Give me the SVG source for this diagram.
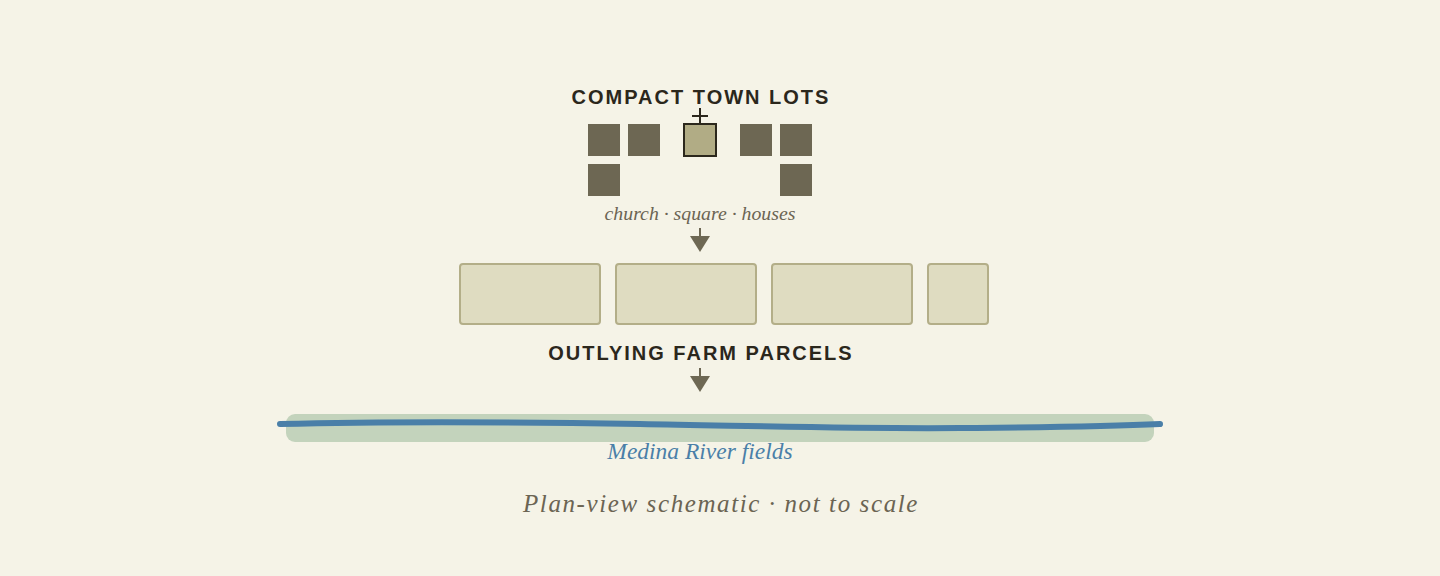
<svg xmlns="http://www.w3.org/2000/svg" width="1440" height="576" viewBox="0 0 1440 576">
<style>
.title{font-family:"Liberation Sans",Arial,sans-serif;font-weight:bold;font-size:20px;letter-spacing:2px;fill:#2b271c;text-anchor:middle}
.cap{font-family:"Liberation Serif","Times New Roman",serif;font-style:italic;font-size:19.8px;fill:#6b6453;text-anchor:middle}
.house{fill:#6d6753}
.parcel{fill:#dfdcc1;stroke:#b3ae88;stroke-width:2}
.conn{stroke:#6d6753;stroke-width:2;fill:none}
.head{fill:#6d6753}
</style>
<rect width="1440" height="576" fill="#f5f3e7"/>
<g id="town">
<text class="title" x="701" y="104">COMPACT TOWN LOTS</text>
<rect class="house" x="588" y="124" width="32" height="32"/>
<rect class="house" x="628" y="124" width="32" height="32"/>
<rect class="house" x="740" y="124" width="32" height="32"/>
<rect class="house" x="780" y="124" width="32" height="32"/>
<rect class="house" x="588" y="164" width="32" height="32"/>
<rect class="house" x="780" y="164" width="32" height="32"/>
<rect x="684" y="124" width="32" height="32" fill="#b1ac85" stroke="#2b271c" stroke-width="2"/>
<path d="M700 108V124M692 116H708" stroke="#2b271c" stroke-width="2"/>
<text class="cap" x="700" y="220">church · square · houses</text>
</g>
<g id="farms">
<rect class="parcel" x="460" y="264" width="140" height="60" rx="3"/>
<rect class="parcel" x="616" y="264" width="140" height="60" rx="3"/>
<rect class="parcel" x="772" y="264" width="140" height="60" rx="3"/>
<rect class="parcel" x="928" y="264" width="60" height="60" rx="3"/>
<text class="title" x="701" y="360">OUTLYING FARM PARCELS</text>
</g>
<g id="river">
<rect x="286" y="414" width="868" height="28" rx="9" fill="#c3d3bc"/>
<path d="M280 424C400 421 520 422 640 424S860 429 960 428S1100 427 1160 424" stroke="#4a7fa8" stroke-width="6" fill="none" stroke-linecap="round"/>
<text class="cap" x="700" y="459" style="fill:#4a7fa8;font-size:23.5px">Medina River fields</text>
</g>
<g id="connectors">
<path class="conn" d="M700 228V240"/>
<path class="head" d="M690 236H710L700 252Z"/>
<path class="conn" d="M700 368V380"/>
<path class="head" d="M690 376H710L700 392Z"/>
</g>
<text class="cap" x="721" y="512" style="font-size:25px;letter-spacing:1.6px">Plan-view schematic · not to scale</text>
</svg>
